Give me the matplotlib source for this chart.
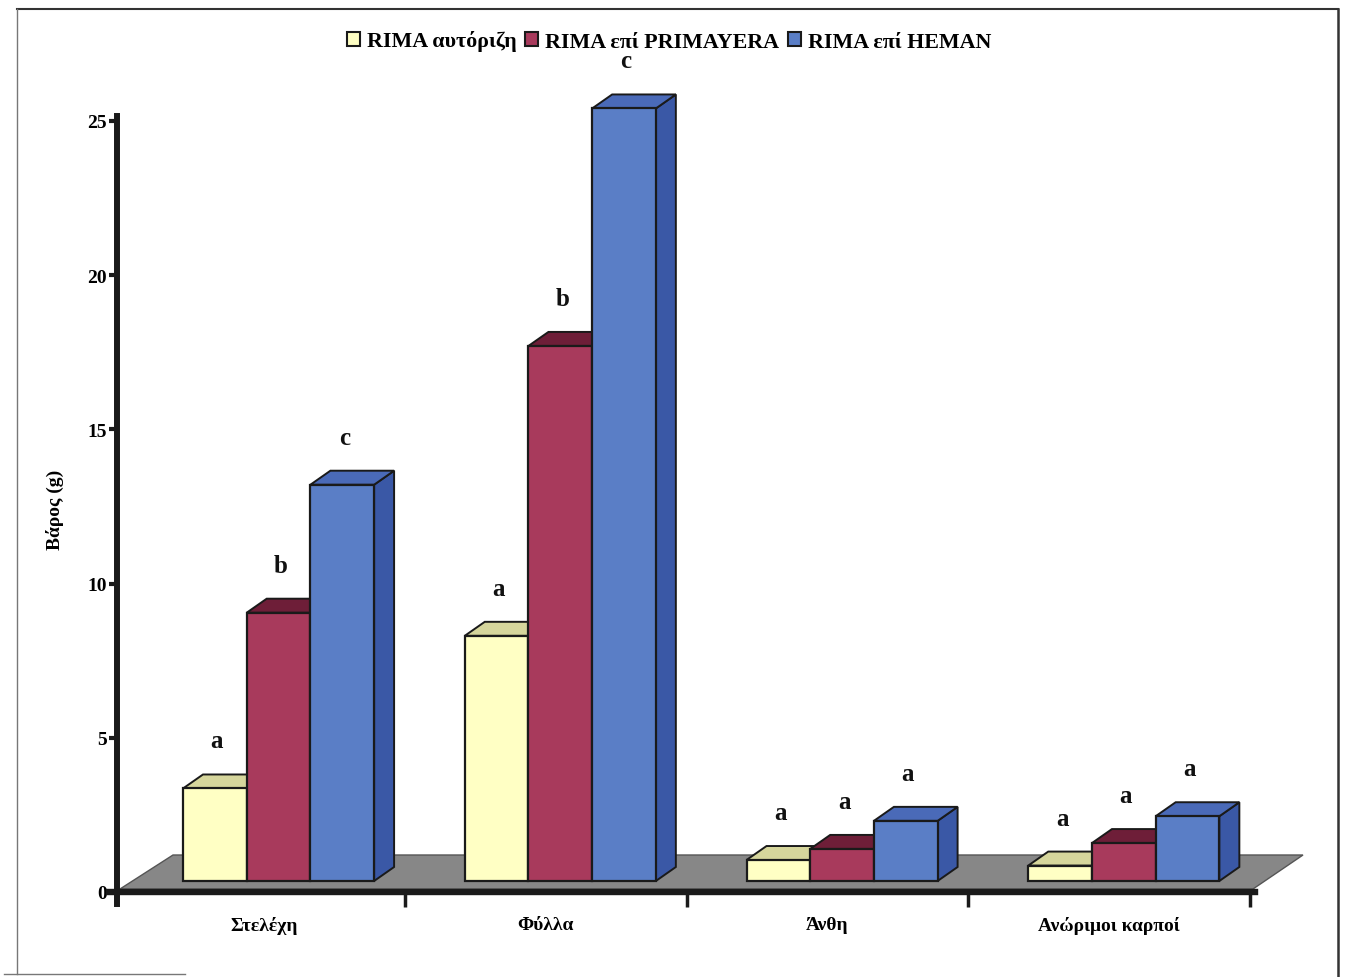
import matplotlib
matplotlib.use("Agg")
import matplotlib.pyplot as plt
from matplotlib.patches import Polygon, Patch
from matplotlib.lines import Line2D

# ---------------- data ----------------
categories = ["Στελέχη", "Φύλλα", "Άνθη", "Ανώριμοι καρποί"]
series_names = ["RIMA αυτόριζη", "RIMA επί PRIMAYERA", "RIMA επί HEMAN"]
rima_own = [3.0, 7.95, 0.68, 0.50]
rima_primayera = [8.7, 17.35, 1.04, 1.23]
rima_heman = [12.85, 25.05, 1.95, 2.10]
letters_own = ["a", "a", "a", "a"]
letters_primayera = ["b", "b", "a", "a"]
letters_heman = ["c", "c", "a", "a"]
yticks = [0, 5, 10, 15, 20, 25]

# ---------------- style ----------------
front_cols = ["#FFFFC4", "#A83A5C", "#5A7EC6"]
top_cols = ["#D6D69C", "#6E1E38", "#4A6AB8"]
side_cols = ["#C8C890", "#6E1E38", "#3A58A6"]
edge = "#1a1a1a"
FONT = "Liberation Serif"

W, H = 1346, 978
fig = plt.figure(figsize=(W / 100, H / 100), dpi=100)
ax_l, ax_r, ax_b, ax_t = 123, 1250, 893, 122  # pixel frame of data area
ax = fig.add_axes([ax_l / W, 1 - ax_b / H, (ax_r - ax_l) / W, (ax_b - ax_t) / H])
ax.set_xlim(0, 4)
ax.set_ylim(0, 25)
PXX = (ax_r - ax_l) / 4.0
PXY = (ax_b - ax_t) / 25.0

def px2x(p):
    return p / PXX

def px2y(p):
    return p / PXY

# floor
floor = Polygon([(px2x(-3), px2y(3)), (px2x(1130), px2y(3)),
                 (px2x(1180), px2y(37)), (px2x(50), px2y(37))],
                closed=True, facecolor="#878787", edgecolor="#555555",
                linewidth=1.0, zorder=1, clip_on=False)
ax.add_patch(floor)

# bars (pseudo-3D)
dx, dy = px2x(20), px2y(14)
bw = px2x(63.7)
base = px2y(11)
offset0 = px2x(60)
all_series = [rima_own, rima_primayera, rima_heman]
all_letters = [letters_own, letters_primayera, letters_heman]
z = 2
for i in range(len(categories)):
    for j, vals in enumerate(all_series):
        x0 = i + offset0 + j * bw
        top = base + vals[i]
        ax.add_patch(Polygon([(x0 + bw, base), (x0 + bw + dx, base + dy),
                              (x0 + bw + dx, top + dy), (x0 + bw, top)],
                             closed=True, facecolor=side_cols[j], edgecolor=edge,
                             linewidth=1.4, zorder=z, clip_on=False))
        ax.add_patch(Polygon([(x0, top), (x0 + dx, top + dy),
                              (x0 + bw + dx, top + dy), (x0 + bw, top)],
                             closed=True, facecolor=top_cols[j], edgecolor=edge,
                             linewidth=1.4, zorder=z, clip_on=False))
        ax.add_patch(Polygon([(x0, base), (x0 + bw, base), (x0 + bw, top), (x0, top)],
                             closed=True, facecolor=front_cols[j], edgecolor=edge,
                             linewidth=1.6, zorder=z + 0.5, clip_on=False))
        ax.text(x0 + bw / 2 + px2x(2), top + dy + px2y(27), all_letters[j][i],
                ha="center", va="baseline", fontsize=18, fontweight="bold",
                family=FONT, color="#111111", zorder=10, clip_on=False)
        z += 1

# axes styling
for s in ["top", "right"]:
    ax.spines[s].set_visible(False)
ax.spines["left"].set_position(("outward", 4.5))
ax.spines["left"].set_linewidth(4.3)
ax.spines["left"].set_color("#1a1a1a")
ax.spines["left"].set_bounds(px2y(-12), 25.15)
ax.spines["bottom"].set_linewidth(4.6)
ax.spines["bottom"].set_color("#1a1a1a")
ax.spines["bottom"].set_bounds(px2x(-14), px2x(1132))
ax.spines["bottom"].set_zorder(20)
ax.spines["left"].set_zorder(20)

ax.set_yticks(yticks)
ax.set_yticklabels([str(t) for t in yticks], fontsize=14, fontweight="bold", family=FONT)
ax.tick_params(axis="y", direction="out", length=6, width=3, color="#1a1a1a", pad=1)

ax.set_xticks([1, 2, 3, 4])
ax.set_xticklabels([])
ax.tick_params(axis="x", which="major", direction="out", length=11, width=2.5, color="#1a1a1a")
ax.set_xticks([0.5, 1.5, 2.5, 3.5], minor=True)
ax.set_xticklabels(categories, minor=True, fontsize=14, fontweight="bold", family=FONT)
ax.tick_params(axis="x", which="minor", length=0, pad=17)

ax.set_ylabel("Βάρος (g)", fontsize=14, fontweight="bold", family=FONT)
ax.yaxis.set_label_coords((64 - ax_l) / (ax_r - ax_l), (ax_b - 510) / (ax_b - ax_t))

# legend
handles = [Patch(facecolor=front_cols[k], edgecolor=edge, linewidth=1.5, label=series_names[k])
           for k in range(3)]
fig.legend(handles=handles, loc="center", bbox_to_anchor=(669 / W, 1 - 42 / H), ncol=3,
           frameon=False, prop={"family": FONT, "weight": "bold", "size": 15.8},
           handlelength=0.6, handleheight=0.6, handletextpad=0.3, columnspacing=0.4,
           borderaxespad=0)

# outer frame
fc = "#333333"
fig.add_artist(Line2D([17 / W, 1338 / W], [1 - 9.5 / H, 1 - 9.5 / H], color=fc, lw=1.5))
fig.add_artist(Line2D([1338 / W, 1338 / W], [1 - 9.5 / H, 0], color=fc, lw=1.8))
fig.add_artist(Line2D([17 / W, 17 / W], [1 - 9.5 / H, 1 - 975 / H], color="#777777", lw=1.0))
fig.add_artist(Line2D([4 / W, 185 / W], [1 - 975 / H, 1 - 975 / H], color="#777777", lw=1.0))

fig.savefig("out.png", dpi=100)
